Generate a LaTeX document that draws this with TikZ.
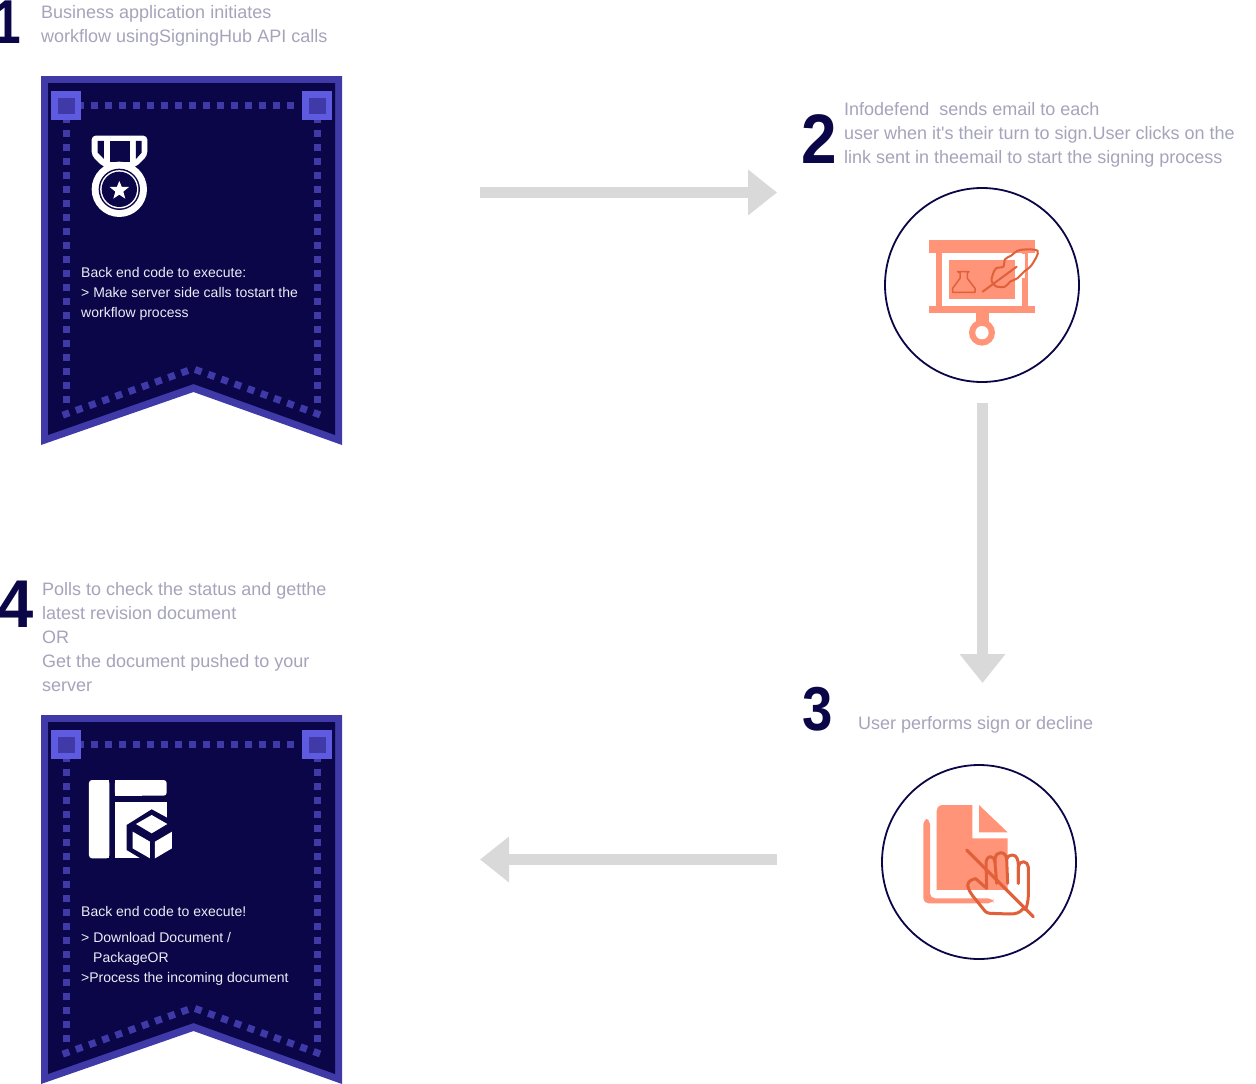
\documentclass[tikz,border=0pt]{standalone}
\usepackage{fontspec}
\setmainfont{Liberation Sans}
\newfontfamily\plainface{Liberation Sans}
\usetikzlibrary{arrows.meta}
\definecolor{navy}{HTML}{0A0647}
\definecolor{edge}{HTML}{3F3AA8}
\definecolor{corner}{HTML}{5F5BE0}
\definecolor{greytext}{HTML}{A5A4BB}
\definecolor{arrowgrey}{HTML}{D9D9D9}
\definecolor{salmon}{HTML}{FF9478}
\definecolor{rust}{HTML}{E0603A}
\definecolor{bannertext}{HTML}{ECECF6}
\tikzset{
  greylabel/.style={anchor=base west,inner sep=0pt,text=greytext,font=\fontsize{18}{18}\selectfont},
  whitelabel/.style={anchor=base west,inner sep=0pt,text=bannertext,font=\fontsize{14}{14}\selectfont},
  numeral/.style={anchor=base,inner sep=0pt,text=navy,font=\fontsize{62}{62}\selectfont\bfseries},
  flow/.style={arrowgrey,line width=11pt,-{Triangle[length=29pt,width=44pt]}},
  ringline/.style={draw=navy,line width=1.8pt,fill=white},
  inkline/.style={draw=rust,line width=1.5pt,line join=round,line cap=round},
  handline/.style={draw=rust,line width=3pt,line join=round,line cap=round},
}
\newcommand{\drawbanner}[1]{%
  \begin{scope}[shift={(0,#1)}]
    \fill[edge] (41,76)--(342,76)--(342,445)--(193.5,392)--(41,445)--cycle;
    \fill[navy] (48,83)--(335,83)--(335,435)--(193.5,384)--(48,435)--cycle;
    \foreach \i in {0,...,15}{\fill[edge] ({80+14*\i-3.5},102)rectangle ++(7,7);}
    \foreach \i in {0,...,20}{
      \fill[edge] (62.5,{119+14*\i-3.5})rectangle ++(7,7);
      \fill[edge] (313.5,{119+14*\i-3.5})rectangle ++(7,7);}
    \foreach \i in {0,...,9}{
      \fill[edge,shift={({66+13.2*\i},{414-4.7*\i})},rotate=20] (-3.5,-3.5)rectangle(3.5,3.5);
      \fill[edge,shift={({198.3+13.17*\i},{370.7+4.78*\i})},rotate=-20] (-3.5,-3.5)rectangle(3.5,3.5);}
    \fill[corner] (51,91)rectangle(81,120);
    \fill[edge] (58,98)rectangle(75,114);
    \fill[corner] (302,91)rectangle(332,120);
    \fill[edge] (309,98)rectangle(326,114);
  \end{scope}}
\begin{document}
\begin{tikzpicture}[x=1pt,y=-1pt]
\useasboundingbox (0,0) rectangle (1256,1084);
\fill[white] (0,0) rectangle (1256,1084);

\drawbanner{0}
\drawbanner{639}

% medal icon
\begin{scope}[shift={(30,65)},x=0.3333pt,y=-0.3333pt]
  \fill[white,rounded corners=4pt] (185,212)--(352,212)--(352,272)--(318,306)--(220,306)--(185,272)--cycle;
  \fill[navy] (203,228)--(222,228)--(222,282)--(203,263)--cycle;
  \fill[navy] (240,228)--(300,228)--(300,292)--(240,292)--cycle;
  \fill[navy] (318,228)--(335,228)--(335,263)--(318,282)--cycle;
  \fill[white] (268,373) circle[radius=83];
  \fill[navy] (268,373) circle[radius=62];
  \fill[white] (268,373) circle[radius=57.5];
  \fill[navy] (268,373) circle[radius=53];
  \fill[white] (268,348)--(275.5,366)--(297,366)--(280,380)--(286,401)--(268,389)--(250,401)--(256,380)--(239,366)--(260.5,366)--cycle;
\end{scope}

% layout and cube icon
\begin{scope}[shift={(75,770)},x=0.3333pt,y=-0.3333pt]
  \fill[white,rounded corners=3pt] (42,30) rectangle (103,265);
  \fill[white] (70,30) rectangle (103,265);
  \fill[white,rounded corners=3pt] (120,30) rectangle (275,77);
  \fill[white] (120,30) rectangle (200,77);
\end{scope}
\begin{scope}[shift={(120,800)},x=0.3333pt,y=-0.3333pt]
  \fill[white] (-15,5) rectangle (140,175);
  \fill[navy] (95,28)--(165,66)--(165,195)--(95,195)--(20,150)--(20,75)--cycle;
  \fill[white] (95,45)--(142,72)--(95,100)--(48,72)--cycle;
  \fill[white] (38,95)--(90,125)--(90,175)--(38,145)--cycle;
  \fill[white] (105,125)--(156,95)--(156,145)--(105,175)--cycle;
\end{scope}

% labels
\node[numeral] (n1) at (7,43) {\scalebox{.8}[1]{1}};
\node[numeral] (n2) at (819,163) {\scalebox{1.03}[1.13]{2}};
\node[numeral] (n3) at (818,730) {\scalebox{.88}[1]{3}};
\node[numeral] (n4) at (16,627) {\scalebox{1.05}[1.09]{4}};

\node[greylabel] (a1) at (41,18) {Business application initiates};
\node[greylabel] (a2) at (41,42) {workflow usingSigningHub API calls};
\node[greylabel] (b1) at (844,115) {Infodefend\ \ sends email to each};
\node[greylabel] (b2) at (844,139) {\plainface user when it's their turn to sign.User clicks on the};
\node[greylabel] (b3) at (844,163) {link sent in theemail to start the signing process};
\node[greylabel] (c1) at (858,729) {User performs sign or decline};
\node[greylabel] (d1) at (42,595) {Polls to check the status and getthe};
\node[greylabel] (d2) at (42,619) {latest revision document};
\node[greylabel] (d3) at (42,643) {OR};
\node[greylabel] (d4) at (42,667) {Get the document pushed to your};
\node[greylabel] (d5) at (42,691) {server};

\node[whitelabel] (e1) at (81,277) {Back end code to execute:};
\node[whitelabel] (e2) at (81,297) {> Make server side calls tostart the};
\node[whitelabel] (e3) at (81,317) {workflow process};
\node[whitelabel] (f1) at (81,916) {Back end code to execute!};
\node[whitelabel] (f2) at (81,942) {> Download Document /};
\node[whitelabel] (f3) at (93,962) {PackageOR};
\node[whitelabel] (f4) at (81,982) {>Process the incoming document};

% circles
\node[ringline,circle,minimum size=194pt,inner sep=0pt] (ring2) at (982,285) {};
\node[ringline,circle,minimum size=194pt,inner sep=0pt] (ring3) at (979,862) {};

% presentation icon
\begin{scope}[shift={(910,225)},x=0.3333pt,y=-0.3333pt]
  \fill[salmon] (57,45) rectangle (375,85);
  \fill[salmon] (57,243) rectangle (375,263);
  \fill[salmon] (78,85) rectangle (97,243);
  \fill[salmon] (337,85) rectangle (355,243);
  \fill[salmon] (117,105) rectangle (315,223);
  \fill[salmon] (197,263) rectangle (237,300);
  \fill[salmon] (216,323) circle[radius=39];
  \fill[white] (216,323) circle[radius=20];
  \fill[white] (318,87) rectangle (345,160);
  \draw[inkline] (143,140)--(177,140)--(172,144)--(172,160)--(195,190)--(195,202)--(128,202)--(128,190)--(150,160)--(150,144)--cycle;
  \draw[inkline,line width=2pt] plot[smooth cycle,tension=0.55] coordinates {(383,78)(330,75)(303,92)(285,103)(280,125)(258,130)(248,150)(245,168)(258,184)(285,185)(300,170)(322,160)(342,140)(365,120)};
  \draw[inkline,line width=2pt] (218,200)--(320,125);
\end{scope}

% declined document icon
\begin{scope}[shift={(910,795)},x=0.3333pt,y=-0.3333pt]
  \fill[salmon,rounded corners=5pt] (60,72)--(40,72)--(40,325)--(250,325)--(250,310)--(60,310)--cycle;
  \fill[salmon] (187,30)--(95,30) to[out=180,in=90] (80,48)--(80,285)--(293,285)--(293,130)--(187,130)--cycle;
  \fill[salmon] (207,30)--(293,112)--(207,112)--cycle;
\end{scope}
\begin{scope}[shift={(955,840)},x=0.3333pt,y=-0.3333pt]
  \draw[handline] (95,145)--(62,116) to[out=190,in=80] (38,135) to[out=-80,in=125] (75,195) to[out=-45,in=180] (105,220)--(165,222) to[out=0,in=-125] (205,205) to[out=-60,in=-90] (220,165)--(220,82) to[out=90,in=0] (205,65) to[out=180,in=90] (190,82)--(190,130);
  \draw[handline] (95,145)--(93,70) to[out=90,in=180] (107,50) to[out=0,in=90] (120,68)--(125,130);
  \draw[handline] (120,68)--(120,55) to[out=90,in=180] (137,38) to[out=0,in=90] (155,58)--(158,130);
  \draw[handline] (155,58) to[out=90,in=180] (172,45) to[out=0,in=90] (190,75)--(190,130);
  \draw[handline,line width=3.2pt] (35,30)--(235,230);
\end{scope}

% flow arrows
\coordinate (p1) at (480,192.5);
\coordinate (p2) at (777,192.5);
\coordinate (p3) at (982.5,403);
\coordinate (p4) at (982.5,683);
\coordinate (p5) at (777,859.5);
\coordinate (p6) at (480,859.5);
\draw[flow] (p1) -- (p2);
\draw[flow] (p3) -- (p4);
\draw[flow] (p5) -- (p6);
\end{tikzpicture}
\end{document}
